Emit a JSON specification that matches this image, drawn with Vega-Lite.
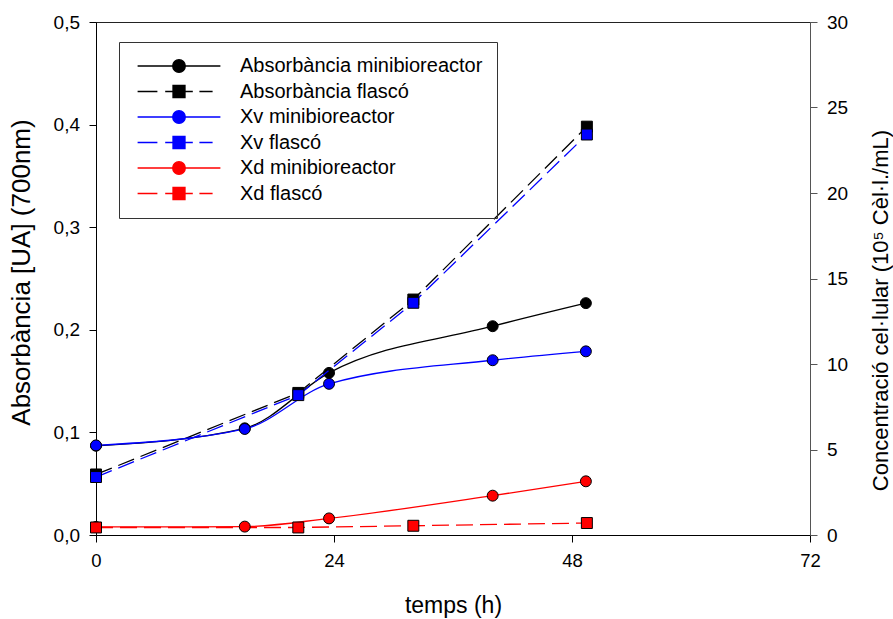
{
  "$schema": "https://vega.github.io/schema/vega-lite/v6.json",
  "width": 714,
  "height": 513,
  "autosize": {"type": "none"},
  "padding": {"left": 96, "top": 22, "right": 83, "bottom": 84},
  "background": "white",
  "config": {
    "view": {"stroke": "#222", "strokeWidth": 1},
    "font": "Liberation Sans",
    "axis": {
      "labelFont": "Liberation Sans",
      "titleFont": "Liberation Sans",
      "grid": false,
      "labelColor": "black",
      "titleColor": "black",
      "domainColor": "black",
      "tickColor": "black",
      "tickSize": 7,
      "labelFontSize": 19,
      "titleFontWeight": "normal",
      "labelPadding": 9.5
    }
  },
  "datasets": {
    "d": [
      {"serie": "Absorbància minibioreactor", "magnitud": "Absorbància", "vessel": "minibioreactor", "t": 0, "valor": 0.087},
      {"serie": "Absorbància minibioreactor", "magnitud": "Absorbància", "vessel": "minibioreactor", "t": 15, "valor": 0.104},
      {"serie": "Absorbància minibioreactor", "magnitud": "Absorbància", "vessel": "minibioreactor", "t": 23.5, "valor": 0.158},
      {"serie": "Absorbància minibioreactor", "magnitud": "Absorbància", "vessel": "minibioreactor", "t": 40, "valor": 0.2035},
      {"serie": "Absorbància minibioreactor", "magnitud": "Absorbància", "vessel": "minibioreactor", "t": 49.4, "valor": 0.226},
      {"serie": "Absorbància flascó", "magnitud": "Absorbància", "vessel": "flascó", "t": 0, "valor": 0.059},
      {"serie": "Absorbància flascó", "magnitud": "Absorbància", "vessel": "flascó", "t": 20.4, "valor": 0.1385},
      {"serie": "Absorbància flascó", "magnitud": "Absorbància", "vessel": "flascó", "t": 32, "valor": 0.2295},
      {"serie": "Absorbància flascó", "magnitud": "Absorbància", "vessel": "flascó", "t": 49.5, "valor": 0.398},
      {"serie": "Xv minibioreactor", "magnitud": "Xv", "vessel": "minibioreactor", "t": 0, "valor": 5.24},
      {"serie": "Xv minibioreactor", "magnitud": "Xv", "vessel": "minibioreactor", "t": 15, "valor": 6.2},
      {"serie": "Xv minibioreactor", "magnitud": "Xv", "vessel": "minibioreactor", "t": 23.5, "valor": 8.84},
      {"serie": "Xv minibioreactor", "magnitud": "Xv", "vessel": "minibioreactor", "t": 40, "valor": 10.22},
      {"serie": "Xv minibioreactor", "magnitud": "Xv", "vessel": "minibioreactor", "t": 49.4, "valor": 10.74},
      {"serie": "Xd minibioreactor", "magnitud": "Xd", "vessel": "minibioreactor", "t": 0, "valor": 0.47},
      {"serie": "Xd minibioreactor", "magnitud": "Xd", "vessel": "minibioreactor", "t": 15, "valor": 0.49},
      {"serie": "Xd minibioreactor", "magnitud": "Xd", "vessel": "minibioreactor", "t": 23.5, "valor": 0.97},
      {"serie": "Xd minibioreactor", "magnitud": "Xd", "vessel": "minibioreactor", "t": 40, "valor": 2.3},
      {"serie": "Xd minibioreactor", "magnitud": "Xd", "vessel": "minibioreactor", "t": 49.4, "valor": 3.14},
      {"serie": "Xv flascó", "magnitud": "Xv", "vessel": "flascó", "t": 0, "valor": 3.39},
      {"serie": "Xv flascó", "magnitud": "Xv", "vessel": "flascó", "t": 20.4, "valor": 8.18},
      {"serie": "Xv flascó", "magnitud": "Xv", "vessel": "flascó", "t": 32, "valor": 13.58},
      {"serie": "Xv flascó", "magnitud": "Xv", "vessel": "flascó", "t": 49.5, "valor": 23.42},
      {"serie": "Xd flascó", "magnitud": "Xd", "vessel": "flascó", "t": 0, "valor": 0.44},
      {"serie": "Xd flascó", "magnitud": "Xd", "vessel": "flascó", "t": 20.4, "valor": 0.44},
      {"serie": "Xd flascó", "magnitud": "Xd", "vessel": "flascó", "t": 32, "valor": 0.54},
      {"serie": "Xd flascó", "magnitud": "Xd", "vessel": "flascó", "t": 49.5, "valor": 0.7}
    ]
  },
  "data": {"name": "d"},
  "encoding": {
    "x": {
      "field": "t",
      "type": "quantitative",
      "scale": {"domain": [0, 72]},
      "axis": {
        "values": [0, 24, 48, 72],
        "title": "temps (h)",
        "titleFontSize": 23,
        "labelFontSize": 18.5,
        "labelFlush": false,
        "titleBaseline": "alphabetic",
        "titleY": 77
      }
    }
  },
  "layer": [
    {
      "transform": [{"filter": "datum.magnitud == 'Absorbància'"}],
      "encoding": {
        "y": {
          "field": "valor",
          "type": "quantitative",
          "scale": {"domain": [0, 0.5]},
          "axis": {
            "orient": "left",
            "values": [0, 0.1, 0.2, 0.3, 0.4, 0.5],
            "labelExpr": "replace(format(datum.value, '.1f'), '.', ',')",
            "title": "Absorbància [UA] (700nm)",
            "titleFontSize": 26,
            "titlePadding": 19,
            "titleY": 250
          }
        }
      },
      "layer": [
        {
          "transform": [{"filter": "datum.vessel == 'minibioreactor'"}],
          "mark": {"type": "line", "interpolate": "monotone", "strokeWidth": 1.3},
          "encoding": {
            "color": {
              "field": "serie",
              "type": "nominal",
              "scale": {
                "domain": ["Absorbància minibioreactor", "Absorbància flascó", "Xv minibioreactor", "Xv flascó", "Xd minibioreactor", "Xd flascó"],
                "range": ["#000000", "#000000", "#0000ff", "#0000ff", "#ff0000", "#ff0000"]
              },
              "legend": {
                "orient": "none",
                "legendX": 23,
                "legendY": 20,
                "title": null,
                "padding": 14,
                "strokeColor": "#333",
                "symbolSize": 144,
                "symbolStrokeWidth": 1.3,
                "symbolOffset": 36,
                "labelOffset": 51,
                "labelFontSize": 20,
                "labelFont": "Liberation Sans",
                "labelColor": "black",
                "labelLimit": 400,
                "rowPadding": 5.5,
                "encode": {
                  "symbols": {
                    "update": {
                      "shape": {"signal": "indexof(datum.value, 'mini') >= 0 ? 'M-6.9,0H6.9M-1.05,0A1.05,1.05,0,1,0,1.05,0A1.05,1.05,0,1,0,-1.05,0Z' : 'M-6.9,0H-3.6M-2.3,0H2.3M3.4,0H5.6M-1,-1H1V1H-1Z'"},
                      "fill": {"signal": "scale('color', datum.value)"},
                      "stroke": {"signal": "scale('color', datum.value)"},
                      "opacity": {"value": 1}
                    }
                  }
                }
              }
            }
          }
        },
        {
          "transform": [{"filter": "datum.vessel == 'flascó'"}],
          "mark": {"type": "line", "strokeDash": [17, 7], "strokeWidth": 1.3},
          "encoding": {"color": {"field": "serie", "type": "nominal", "legend": null}}
        },
        {
          "mark": {"type": "point", "filled": true, "stroke": "black", "strokeWidth": 1, "size": 120, "opacity": 1},
          "encoding": {
            "color": {"field": "serie", "type": "nominal", "legend": null},
            "shape": {"field": "vessel", "type": "nominal", "scale": {"domain": ["minibioreactor", "flascó"], "range": ["circle", "square"]}, "legend": null}
          }
        }
      ]
    },
    {
      "transform": [{"filter": "datum.magnitud != 'Absorbància'"}],
      "encoding": {
        "y": {
          "field": "valor",
          "type": "quantitative",
          "scale": {"domain": [0, 30]},
          "axis": {
            "orient": "right",
            "values": [0, 5, 10, 15, 20, 25, 30],
            "title": "Concentració cel·lular (10⁵ Cèl·l./mL)",
            "titleFontSize": 22,
            "titleAngle": -90,
            "titleBaseline": "top",
            "titlePadding": 23,
            "titleY": 288,
            "domainColor": "#555",
            "tickColor": "#555"
          }
        }
      },
      "layer": [
        {
          "transform": [{"filter": "datum.vessel == 'minibioreactor'"}],
          "mark": {"type": "line", "interpolate": "monotone", "strokeWidth": 1.3},
          "encoding": {"color": {"field": "serie", "type": "nominal", "legend": null}}
        },
        {
          "transform": [{"filter": "datum.vessel == 'flascó'"}],
          "mark": {"type": "line", "strokeDash": [17, 7], "strokeWidth": 1.3},
          "encoding": {"color": {"field": "serie", "type": "nominal", "legend": null}}
        },
        {
          "mark": {"type": "point", "filled": true, "stroke": "black", "strokeWidth": 1, "size": 120, "opacity": 1},
          "encoding": {
            "color": {"field": "serie", "type": "nominal", "legend": null},
            "shape": {"field": "vessel", "type": "nominal", "scale": {"domain": ["minibioreactor", "flascó"], "range": ["circle", "square"]}, "legend": null}
          }
        }
      ]
    }
  ],
  "resolve": {"scale": {"y": "independent"}, "axis": {"y": "independent"}}
}
